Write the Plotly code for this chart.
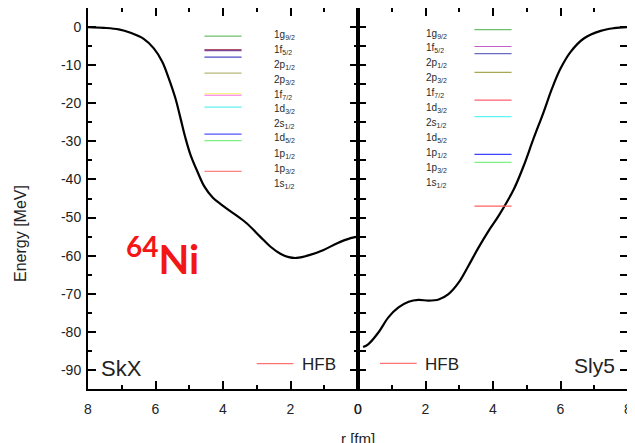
import plotly.graph_objects as go

# ---- data ----
r_skx = [8.0, 7.53, 7.09, 6.74, 6.35, 6.05, 5.8, 5.61, 5.41, 5.26, 5.11, 4.96, 4.76, 4.55,
         4.3, 4.05, 3.69, 3.3, 2.9, 2.6, 2.3, 2.05, 1.82, 1.42, 1.02, 0.63, 0.22, 0.0]
e_skx = [0.0, -0.2, -0.6, -1.5, -3.1, -5.6, -9.1, -13.4, -18.7, -23.9, -29.2, -33.6, -37.9,
         -41.9, -44.8, -46.6, -48.9, -51.5, -55.0, -57.6, -59.5, -60.4, -60.6, -59.8, -58.5,
         -56.8, -55.4, -55.0]

r_sly5 = [0.15, 0.31, 0.61, 0.9, 1.2, 1.5, 1.79, 2.09, 2.39, 2.68, 2.98, 3.27, 3.57, 3.87,
          4.17, 4.62, 4.91, 5.2, 5.5, 5.75, 6.0, 6.3, 6.69, 7.19, 7.58, 8.0]
e_sly5 = [-84.0, -83.2, -80.1, -76.2, -73.6, -72.1, -71.6, -71.8, -71.5, -70.1, -67.1, -62.7,
          -57.9, -53.5, -49.5, -42.5, -36.4, -29.3, -22.3, -16.1, -10.9, -6.5, -3.0, -1.0,
          -0.3, 0.0]

level_r = [3.45, 4.55]
skx_levels = [-2.4, -5.9, -6.2, -7.9, -12.1, -17.5, -17.9, -21.0, -28.1, -29.8, -37.9]
skx_colors = ["#6cbf6c", "#b05068", "#7a4a9a", "#4a4ac8", "#b8b87a", "#f4f060", "#ff70e8",
              "#60f0f0", "#5050ff", "#80f080", "#ff8080"]
sly5_levels = [-0.7, -5.1, -7.0, -11.9, -19.2, -23.5, -33.4, -35.5, -47.0]
sly5_colors = ["#6cbf6c", "#c060c8", "#6a6ac0", "#a8a850", "#ff6070", "#60f4f4",
               "#4040ff", "#80f080", "#ff6060"]

level_labels = ["1g<sub>9/2</sub>", "1f<sub>5/2</sub>", "2p<sub>1/2</sub>", "2p<sub>3/2</sub>",
                "1f<sub>7/2</sub>", "1d<sub>3/2</sub>", "2s<sub>1/2</sub>", "1d<sub>5/2</sub>",
                "1p<sub>1/2</sub>", "1p<sub>3/2</sub>", "1s<sub>1/2</sub>"]
skx_label_e = [-2.1, -6.0, -10.0, -13.9, -17.8, -21.5, -25.5, -29.2, -33.2, -37.2, -41.2]
sly5_label_e = [-1.7, -5.6, -9.5, -13.5, -17.4, -21.3, -25.2, -29.1, -33.0, -37.0, -40.9]
skx_label_r = 2.55
sly5_label_r = 1.97

x_ticks = [0, 2, 4, 6, 8]
x_ticktext = ["0", "2", "4", "6", "8"]
y_ticks = [0, -10, -20, -30, -40, -50, -60, -70, -80, -90]
y_ticktext = ["0", "-10", "-20", "-30", "-40", "-50", "-60", "-70", "-80", "-90"]

fig = go.Figure()

fig.add_trace(go.Scatter(x=r_skx, y=e_skx, mode="lines",
                         line=dict(color="black", width=2.2, shape="spline", smoothing=1.0),
                         xaxis="x", yaxis="y", showlegend=False))
fig.add_trace(go.Scatter(x=r_sly5, y=e_sly5, mode="lines",
                         line=dict(color="black", width=2.2, shape="spline", smoothing=1.0),
                         xaxis="x2", yaxis="y", showlegend=False))

for e, c in zip(skx_levels, skx_colors):
    fig.add_trace(go.Scatter(x=level_r, y=[e, e], mode="lines", line=dict(color=c, width=1.2),
                             xaxis="x", yaxis="y", showlegend=False, hoverinfo="skip"))
for e, c in zip(sly5_levels, sly5_colors):
    fig.add_trace(go.Scatter(x=level_r, y=[e, e], mode="lines", line=dict(color=c, width=1.2),
                             xaxis="x2", yaxis="y", showlegend=False, hoverinfo="skip"))

label_font = dict(family="Liberation Sans, Arial", size=10, color="#2a2a2a")
for lab, e in zip(level_labels, skx_label_e):
    fig.add_annotation(x=skx_label_r, y=e, xref="x", yref="y", text=lab, showarrow=False,
                       xanchor="left", yanchor="middle", font=label_font)
for lab, e in zip(level_labels, sly5_label_e):
    fig.add_annotation(x=sly5_label_r, y=e, xref="x2", yref="y", text=lab, showarrow=False,
                       xanchor="left", yanchor="middle", font=label_font)

# page offset of the plotly div (body margin)
OFF = 8
W, H = 635 - OFF, 443 - OFF
# plot area in page pixels: x 88..628, y 8..389
PL, PR, PT, PB = 88 - OFF, 628 - OFF, 8 - OFF, 389 - OFF

def px2paper(px, py):
    return (px - OFF - PL) / (PR - PL), (PB - (py - OFF)) / (PB - PT)

# HFB legends
for x0p, x1p, yp in [(256.7, 293.3, 363.7), (380.0, 416.7, 363.3)]:
    a0, b0 = px2paper(x0p, yp)
    a1, _ = px2paper(x1p, yp)
    fig.add_shape(type="line", xref="paper", yref="paper", x0=a0, x1=a1, y0=b0, y1=b0,
                  line=dict(color="#ff5050", width=1))

big = "Liberation Sans, Arial"
def padd(px, py, text, size, xanchor="left", color="#222222", family=big, angle=0):
    xx, yy = px2paper(px, py)
    fig.add_annotation(x=xx, y=yy, xref="paper", yref="paper",
                       text=text, showarrow=False, xanchor=xanchor, yanchor="middle",
                       textangle=angle, font=dict(family=family, size=size, color=color))

padd(300, 364, "HFB", 17)
padd(423, 364, "HFB", 17)
padd(99, 368, "SkX", 22)
padd(617, 365, "Sly5", 21, xanchor="right")
padd(124, 256, "<b><sup>64</sup>Ni</b>", 40, color="#f21616", family="Lato, Liberation Sans")
padd(20, 234, "Energy [MeV]", 16, xanchor="center", angle=-90)
padd(358, 438, "r [fm]", 15, xanchor="center")

axis_common = dict(showline=True, linewidth=2, linecolor="black", mirror="allticks",
                   ticks="inside", ticklen=8, tickwidth=2, tickcolor="black",
                   showgrid=False, zeroline=False,
                   tickfont=dict(family="Liberation Sans, Arial", size=14, color="#222222"))
minor_common = dict(ticks="inside", ticklen=4, tickwidth=2, tickcolor="black")

fig.update_layout(
    width=W, height=H,
    margin=dict(l=PL, r=W - PR, t=PT, b=H - PB, autoexpand=False),
    paper_bgcolor="white", plot_bgcolor="white",
    xaxis=dict(domain=[0, 0.5], range=[8, 0], tickvals=x_ticks, ticktext=x_ticktext, anchor="y",
               minor=dict(dtick=1, **minor_common), ticklabelstandoff=6, **axis_common),
    xaxis2=dict(domain=[0.5, 1], range=[0, 8], tickvals=x_ticks, ticktext=x_ticktext, anchor="y",
                minor=dict(dtick=1, **minor_common), ticklabelstandoff=6, **axis_common),
    yaxis=dict(range=[-95, 5], tickvals=y_ticks, ticktext=y_ticktext, anchor="x",
               minor=dict(dtick=5, **minor_common), ticklabelstandoff=2, **axis_common),
)

fig.write_html("out.html")
